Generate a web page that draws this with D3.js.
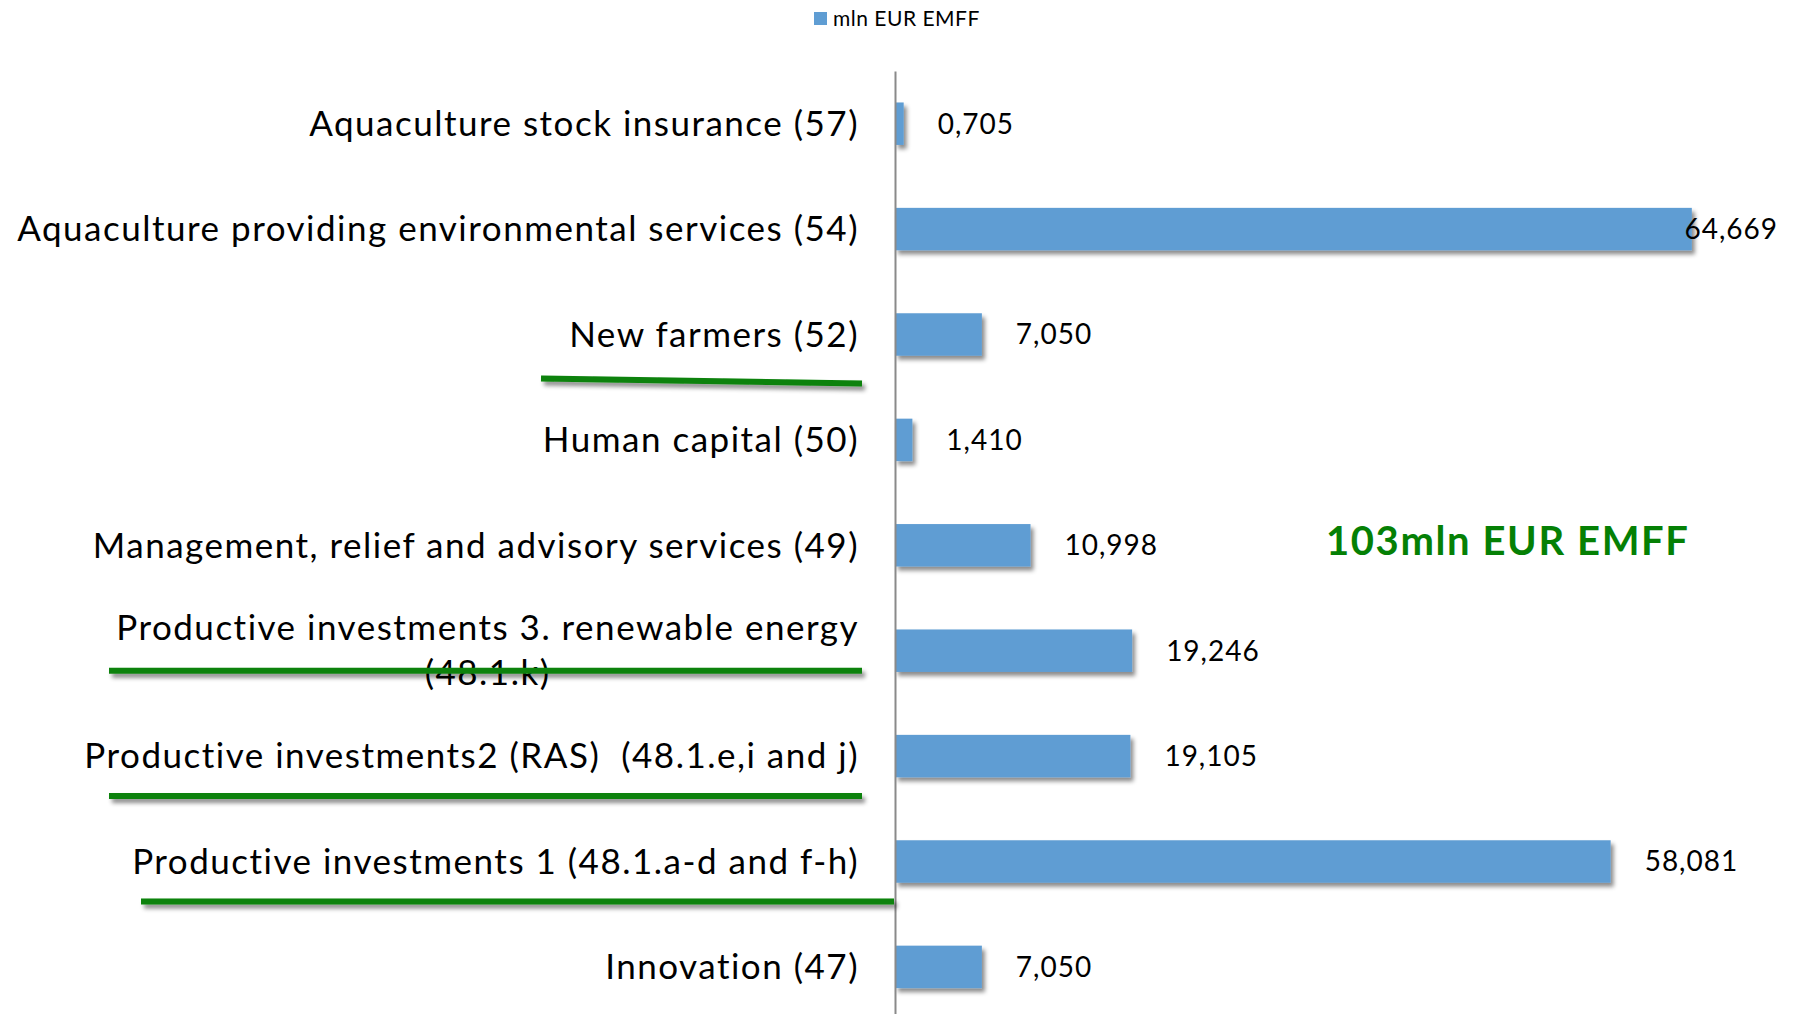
<!DOCTYPE html>
<html>
<head>
<meta charset="utf-8">
<script src="https://cdn.jsdelivr.net/npm/d3@7"></script>
<style>
  body { margin: 0; background: #fff; }
  svg { display: block; }
  .cat { font-family: Lato, "Liberation Sans", sans-serif; font-size: 35px; letter-spacing: 1.5px; fill: #000; white-space: pre; }
  .val { font-family: Lato, "Liberation Sans", sans-serif; font-size: 28px; letter-spacing: 1px; fill: #000; }
</style>
</head>
<body>
<div id="chart"></div>
<script>
// categories top to bottom, "\n" marks a forced line break
var categories = [
  "Aquaculture stock insurance (57)",
  "Aquaculture providing environmental services (54)",
  "New farmers (52)",
  "Human capital (50)",
  "Management, relief and advisory services (49)",
  "Productive investments 3. renewable energy\n(48.1.k)",
  "Productive investments2 (RAS)  (48.1.e,i and j)",
  "Productive investments 1 (48.1.a-d and f-h)",
  "Innovation (47)"
];
var values = [0.705, 64.669, 7.050, 1.410, 10.998, 19.246, 19.105, 58.081, 7.050];
var seriesName = "mln EUR EMFF";
var totalNote = "103mln EUR EMFF";

// hand drawn green underlines (row index, x from, x to, offset below row centre)
var marks = [
  {row: 2, x0: 541, x1: 862, dy0: 44, dy1: 49},
  {row: 5, x0: 109, x1: 862, dy0: 20, dy1: 20},
  {row: 6, x0: 109, x1: 862, dy0: 40, dy1: 40},
  {row: 7, x0: 141, x1: 894, dy0: 40, dy1: 40}
];

var width = 1796, height = 1014;

var svg = d3.select("#chart").append("svg")
  .attr("width", width)
  .attr("height", height);

var defs = svg.append("defs");
defs.append("filter").attr("id", "shadow")
  .attr("filterUnits", "userSpaceOnUse")
  .attr("x", 0).attr("y", 0).attr("width", width).attr("height", height)
  .append("feDropShadow")
  .attr("dx", 3).attr("dy", 4).attr("stdDeviation", 2.2)
  .attr("flood-color", "#000").attr("flood-opacity", 0.45);

var x = d3.scaleLinear().domain([0, 70]).range([895, 1757.5]);
var y = d3.scaleBand().domain(categories)
  .range([71, 71 + 105.4 * categories.length])
  .paddingInner(0.597)
  .paddingOuter(0.2985);

var euro = d3.formatLocale({decimal: ",", thousands: ".", grouping: [3], currency: ["", ""]});
var fmt = euro.format(".3f");

// bars
svg.append("g").selectAll("rect")
  .data(categories)
  .enter()
  .append("rect")
  .attr("x", x(0))
  .attr("y", function (d) { return y(d); })
  .attr("width", function (d, i) { return x(values[i]) - x(0); })
  .attr("height", y.bandwidth())
  .attr("fill", "#5f9dd3")
  .attr("filter", "url(#shadow)");

// category axis (line only)
var axis = svg.append("g")
  .attr("transform", "translate(" + x(0) + ",0)")
  .call(d3.axisLeft(y).tickSize(0).tickSizeOuter(0).tickFormat(""));
axis.select(".domain").attr("stroke", "#8a8a8a").attr("stroke-width", 2);

// category labels, wrapped lines centred on each other, block right aligned
var labelRight = x(0) - 36;
var lineH = 45;
categories.forEach(function (c) {
  var lines = c.split("\n");
  var t = svg.append("text").attr("class", "cat");
  var cy = y(c) + y.bandwidth() / 2;
  var spans = lines.map(function (l, k) {
    return t.append("tspan")
      .attr("y", cy + (k - (lines.length - 1) / 2) * lineH)
      .attr("dy", "0.35em")
      .text(l);
  });
  var maxW = d3.max(spans, function (s) { return s.node().getComputedTextLength(); });
  spans.forEach(function (s) {
    s.attr("x", labelRight - maxW / 2).attr("text-anchor", "middle");
  });
});

// value labels, kept inside the picture
svg.append("g").selectAll("text")
  .data(categories)
  .enter()
  .append("text")
  .attr("class", "val")
  .attr("y", function (d) { return y(d) + y.bandwidth() / 2; })
  .attr("dy", "0.35em")
  .text(function (d, i) { return fmt(values[i]); })
  .each(function (d, i) {
    var w = this.getComputedTextLength();
    d3.select(this).attr("x", Math.min(x(values[i]) + 34, width - 18 - w));
  });

// green underlines
svg.append("g").selectAll("line")
  .data(marks)
  .enter()
  .append("line")
  .attr("x1", function (m) { return m.x0; })
  .attr("x2", function (m) { return m.x1; })
  .attr("y1", function (m) { return y(categories[m.row]) + y.bandwidth() / 2 + m.dy0; })
  .attr("y2", function (m) { return y(categories[m.row]) + y.bandwidth() / 2 + m.dy1; })
  .attr("stroke", "#0a820a")
  .attr("stroke-width", 6)
  .attr("filter", "url(#shadow)");

// total note
svg.append("text")
  .attr("x", 1326)
  .attr("y", 541)
  .attr("dy", "0.35em")
  .attr("font-family", "Lato, 'Liberation Sans', sans-serif")
  .attr("font-weight", "bold")
  .attr("font-size", 40)
  .attr("letter-spacing", "1.6px")
  .attr("fill", "#058005")
  .text(totalNote);

// legend
var legend = svg.append("g").attr("transform", "translate(814,12)");
legend.append("rect").attr("width", 13).attr("height", 13).attr("fill", "#5f9dd3");
legend.append("text")
  .attr("x", 19).attr("y", 7).attr("dy", "0.35em")
  .attr("font-family", "Lato, 'Liberation Sans', sans-serif")
  .attr("font-size", 21)
  .attr("letter-spacing", "0.5px")
  .attr("fill", "#000")
  .text(seriesName);
</script>
</body>
</html>
